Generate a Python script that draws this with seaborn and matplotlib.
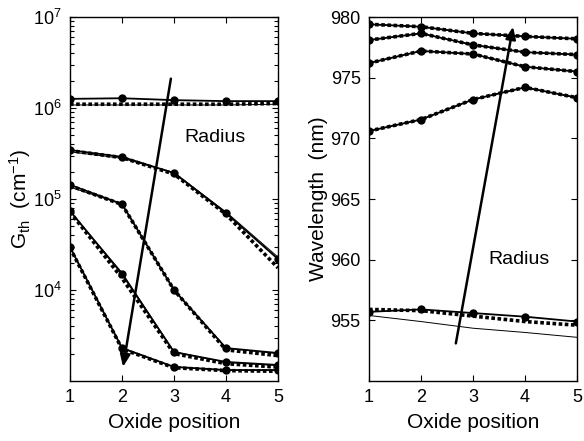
import numpy as np
import pandas as pd
import matplotlib
matplotlib.use("Agg")
import matplotlib.pyplot as plt
from matplotlib.ticker import FixedLocator, NullFormatter
import seaborn as sns

# ---------------- data ----------------
positions = [1, 2, 3, 4, 5]

# Threshold gain G_th (cm^-1), five radii; solid (markers), dotted, thin variants
gth_solid = {
    "A": [1.26e6, 1.28e6, 1.22e6, 1.19e6, 1.19e6],
    "B": [3.45e5, 2.9e5, 1.93e5, 7.0e4, 2.19e4],
    "C": [1.43e5, 8.8e4, 1.0e4, 2.3e3, 2.03e3],
    "D": [7.4e4, 1.5e4, 2.08e3, 1.62e3, 1.5e3],
    "E": [2.97e4, 2.3e3, 1.43e3, 1.32e3, 1.32e3],
}
gth_dotted = {
    "A": [1.1e6, 1.1e6, 1.1e6, 1.1e6, 1.12e6],
    "B": [3.4e5, 2.85e5, 1.88e5, 6.8e4, 1.75e4],
    "C": [1.4e5, 8.7e4, 1.0e4, 2.2e3, 1.9e3],
    "D": [7.2e4, 1.35e4, 2.0e3, 1.55e3, 1.42e3],
    "E": [2.9e4, 2.25e3, 1.4e3, 1.3e3, 1.28e3],
}
gth_thin = {
    "A": [1.08e6, 1.08e6, 1.08e6, 1.08e6, 1.1e6],
    "B": [3.3e5, 2.8e5, 1.95e5, 7.2e4, 2.3e4],
    "C": [1.35e5, 8.8e4, 1.0e4, 2.3e3, 2.0e3],
    "D": [7.3e4, 1.55e4, 2.1e3, 1.6e3, 1.48e3],
    "E": [2.95e4, 2.3e3, 1.42e3, 1.31e3, 1.3e3],
}

# Wavelength (nm)
wl_solid = {
    "A": [979.4, 979.2, 978.65, 978.4, 978.2],
    "B": [978.1, 978.65, 977.7, 977.1, 976.9],
    "C": [976.2, 977.2, 976.95, 975.9, 975.5],
    "D": [970.6, 971.55, 973.2, 974.2, 973.35],
    "E": [955.7, 955.9, 955.6, 955.3, 954.9],
}
wl_dotted = {
    "A": [979.4, 979.2, 978.65, 978.4, 978.2],
    "B": [978.1, 978.65, 977.7, 977.1, 976.9],
    "C": [976.2, 977.2, 976.95, 975.9, 975.5],
    "D": [970.6, 971.55, 973.2, 974.2, 973.35],
    "E": [955.9, 955.8, 955.35, 954.9, 954.6],
}
wl_thin = {
    "A": [979.4, 979.2, 978.65, 978.4, 978.2],
    "B": [978.1, 978.65, 977.7, 977.1, 976.9],
    "C": [976.2, 977.2, 976.95, 975.9, 975.5],
    "D": [970.6, 971.55, 973.2, 974.2, 973.35],
    "E": [955.4, 954.9, 954.35, 954.0, 953.6],
}

x_ticks = [1, 2, 3, 4, 5]
gth_ticks = [1e4, 1e5, 1e6, 1e7]
wl_ticks = [955, 960, 965, 970, 975, 980]

# ---------------- style ----------------
sns.set_theme(style="ticks")
plt.rcParams["font.family"] = ["Liberation Sans", "DejaVu Sans"]
plt.rcParams["mathtext.default"] = "regular"
plt.rcParams.update({
    "xtick.direction": "in", "ytick.direction": "in",
    "xtick.top": True, "ytick.right": True,
    "axes.linewidth": 1.0,
    "text.color": "black", "axes.labelcolor": "black",
    "xtick.color": "black", "ytick.color": "black",
})

fig = plt.figure(figsize=(5.84, 4.41), dpi=100)
ax1 = fig.add_axes([70 / 584, 60 / 441, 208 / 584, 364 / 441])
ax2 = fig.add_axes([369 / 584, 60 / 441, 208 / 584, 364 / 441])


def draw(ax, solid, dotted, thin):
    for key in solid:
        sns.lineplot(x=positions, y=thin[key], ax=ax, color="black",
                     lw=0.7, legend=False)
        sns.lineplot(x=positions, y=dotted[key], ax=ax, color="black",
                     lw=2.6, linestyle=(0, (1, 0.7)), legend=False)
        sns.lineplot(x=positions, y=solid[key], ax=ax, color="black",
                     lw=1.3, marker="o", markersize=6, markeredgewidth=0,
                     legend=False)


draw(ax1, gth_solid, gth_dotted, gth_thin)
draw(ax2, wl_solid, wl_dotted, wl_thin)

arrow = dict(arrowstyle="-|>,head_length=0.6,head_width=0.25",
             color="black", lw=1.8, shrinkA=0, shrinkB=0)

# left axis
ax1.set_yscale("log")
ax1.set_ylim(1e3, 1e7)
ax1.set_xlim(1, 5)
ax1.set_xticks(x_ticks)
ax1.set_yticks(gth_ticks)
minor_pos = [m * 10.0 ** e for e in range(3, 7) for m in range(2, 10)]
ax1.yaxis.set_minor_locator(FixedLocator(minor_pos))
ax1.yaxis.set_minor_formatter(NullFormatter())
ax1.set_xlabel("Oxide position", fontsize=15, labelpad=5)
ax1.set_ylabel(r"G$_{th}$  (cm$^{-1}$)", fontsize=15, labelpad=0)
ax1.annotate("", xy=(2.02, 1.43e3), xytext=(2.94, 2.1e6), arrowprops=arrow)
ax1.text(3.79, 4.8e5, "Radius", fontsize=14, ha="center", va="center")

# right axis
ax2.set_ylim(950, 980)
ax2.set_xlim(1, 5)
ax2.set_xticks(x_ticks)
ax2.set_yticks(wl_ticks)
ax2.set_xlabel("Oxide position", fontsize=15, labelpad=5)
ax2.set_ylabel("Wavelength  (nm)", fontsize=15, labelpad=2)
ax2.annotate("", xy=(3.77, 979.2), xytext=(2.67, 953.1), arrowprops=arrow)
ax2.text(3.88, 960.0, "Radius", fontsize=14, ha="center", va="center")

for ax in (ax1, ax2):
    ax.tick_params(which="major", labelsize=13, length=4, width=0.8,
                   direction="in", top=True, right=True, pad=6,
                   colors="black")
ax1.tick_params(axis="y", which="minor", length=3, width=0.8, direction="in",
                left=True, right=True, color="black")

for ax in (ax1, ax2):
    for s in ax.spines.values():
        s.set_visible(True)
        s.set_color("black")

fig.savefig("out.png", dpi=100)
